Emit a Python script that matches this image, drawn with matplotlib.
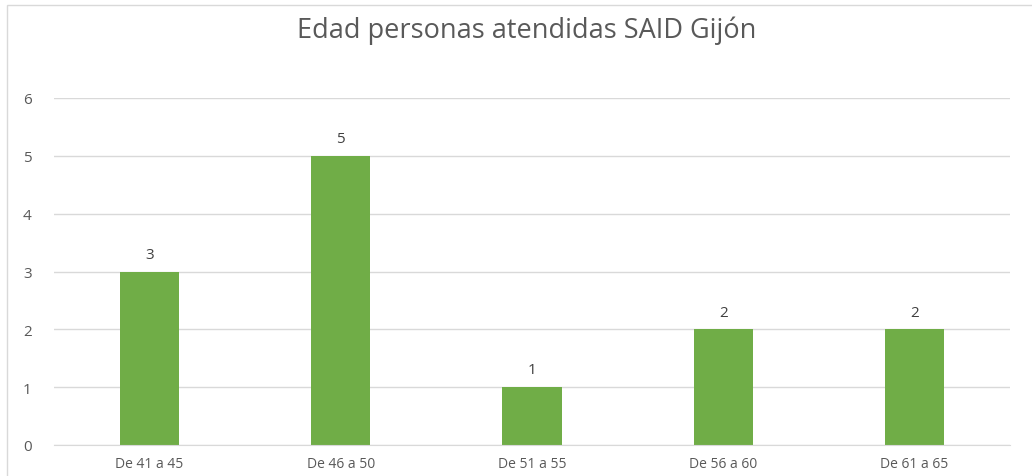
import matplotlib
matplotlib.use("Agg")
import matplotlib.pyplot as plt
from matplotlib.patches import Rectangle

categories = ["De 41 a 45", "De 46 a 50", "De 51 a 55", "De 56 a 60", "De 61 a 65"]
values = [3, 5, 1, 2, 2]
title = "Edad personas atendidas SAID Gijón"

plt.rcParams['font.family'] = ['Open Sans', 'DejaVu Sans']
fig = plt.figure(figsize=(10.32, 4.77), dpi=100)
ax = fig.add_axes([54/1032, 1-446/477, (1010-54)/1032, (446-99)/477])

x = range(len(categories))
bars = ax.bar(x, values, width=0.31, color="#70AD47", zorder=3)
for xi, v in zip(x, values):
    ax.text(xi, v + 0.17, str(v), ha="center", va="bottom", fontsize=11, color="#404040")

ax.set_xlim(-0.5, len(categories) - 0.5)
ax.set_ylim(0, 6)
ax.set_yticks(range(0, 7))
ax.set_xticks(list(x))
ax.set_xticklabels(categories, fontsize=10, color="#595959")
ax.tick_params(axis="y", labelsize=11, labelcolor="#595959", length=0, pad=16)
ax.tick_params(axis="x", length=0, pad=8)
ax.grid(axis="y", color="#D9D9D9", linewidth=1, zorder=0)
for s in ["top", "right", "left"]:
    ax.spines[s].set_visible(False)
ax.spines["bottom"].set_color("#D9D9D9")
ax.spines["bottom"].set_zorder(4)

fig.text(527/1032, 1-31/477, title, ha="center", va="center", fontsize=19.5, color="#595959")

# chart frame
fig.patches.append(Rectangle((7/1032, -0.1), 1.2, 1-6/477+0.1, transform=fig.transFigure,
                             fill=False, edgecolor="#D9D9D9", linewidth=1))

fig.savefig("out.png", dpi=100)
